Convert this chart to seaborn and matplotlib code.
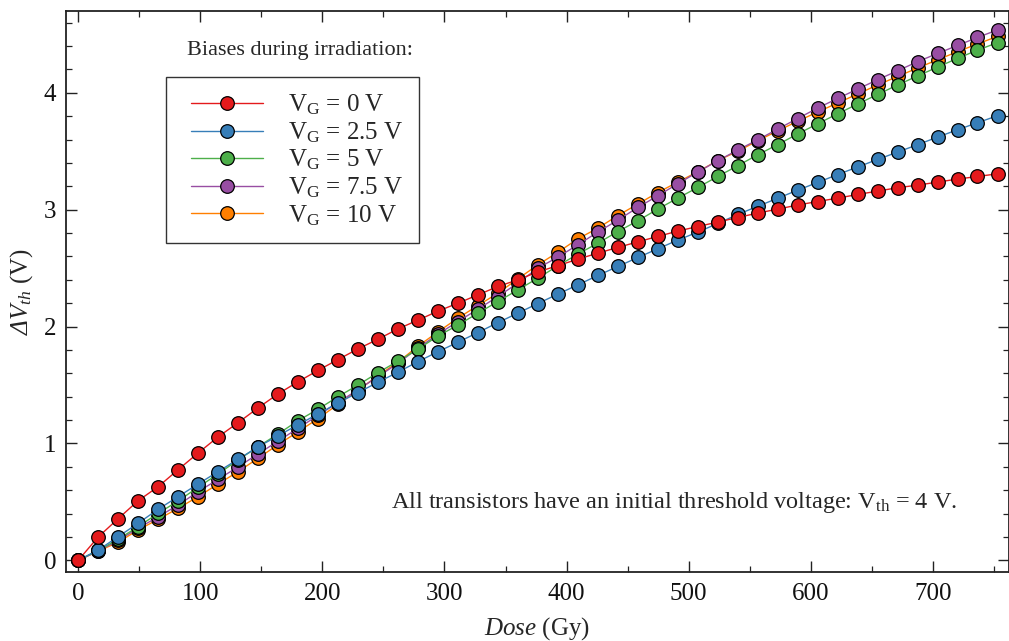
import numpy as np
import pandas as pd
import matplotlib
matplotlib.use("Agg")
import matplotlib.pyplot as plt
from matplotlib.ticker import MultipleLocator
from matplotlib.legend_handler import HandlerLine2D
from matplotlib.lines import Line2D
import seaborn as sns

dose = [0, 16.4, 32.7, 49.1, 65.5, 81.9, 98.2, 114.6, 131.0, 147.3, 163.7, 180.1,
        196.4, 212.8, 229.2, 245.6, 261.9, 278.3, 294.7, 311.0, 327.4, 343.8, 360.1,
        376.5, 392.9, 409.3, 425.6, 442.0, 458.4, 474.7, 491.1, 507.5, 523.8, 540.2,
        556.6, 573.0, 589.3, 605.7, 622.1, 638.4, 654.8, 671.2, 687.5, 703.9, 720.3,
        736.6, 753.0]

vg_0 = [0, 0.20, 0.356, 0.51, 0.63, 0.776, 0.918, 1.056, 1.178, 1.304, 1.424, 1.528,
        1.625, 1.718, 1.809, 1.892, 1.98, 2.055, 2.132, 2.20, 2.271, 2.343, 2.40, 2.468,
        2.521, 2.577, 2.628, 2.677, 2.725, 2.771, 2.817, 2.856, 2.894, 2.933, 2.971,
        3.005, 3.04, 3.07, 3.099, 3.13, 3.159, 3.188, 3.21, 3.236, 3.262, 3.284, 3.307]
vg_2_5 = [0, 0.088, 0.202, 0.317, 0.437, 0.545, 0.653, 0.759, 0.865, 0.97, 1.066, 1.16,
          1.252, 1.347, 1.435, 1.524, 1.61, 1.70, 1.785, 1.866, 1.949, 2.034, 2.115,
          2.197, 2.278, 2.357, 2.437, 2.514, 2.591, 2.665, 2.74, 2.808, 2.882, 2.959,
          3.029, 3.098, 3.167, 3.233, 3.301, 3.365, 3.43, 3.493, 3.556, 3.621, 3.684,
          3.744, 3.804]
vg_5 = [0, 0.085, 0.18, 0.288, 0.402, 0.508, 0.625, 0.739, 0.859, 0.972, 1.081, 1.195,
        1.293, 1.40, 1.50, 1.606, 1.704, 1.806, 1.92, 2.012, 2.115, 2.214, 2.314, 2.414,
        2.52, 2.62, 2.714, 2.813, 2.905, 3.005, 3.099, 3.19, 3.284, 3.376, 3.47, 3.557,
        3.648, 3.735, 3.821, 3.904, 3.986, 4.067, 4.144, 4.22, 4.295, 4.365, 4.429]
vg_7_5 = [0, 0.08, 0.17, 0.274, 0.373, 0.473, 0.587, 0.693, 0.80, 0.91, 1.02, 1.13,
          1.24, 1.35, 1.46, 1.572, 1.685, 1.815, 1.935, 2.043, 2.149, 2.257, 2.372, 2.50,
          2.594, 2.70, 2.808, 2.911, 3.019, 3.119, 3.222, 3.322, 3.419, 3.51, 3.598,
          3.69, 3.78, 3.87, 3.952, 4.032, 4.112, 4.189, 4.266, 4.337, 4.405, 4.474, 4.538]
vg_10 = [0, 0.078, 0.155, 0.26, 0.351, 0.445, 0.545, 0.653, 0.759, 0.873, 0.99, 1.10,
         1.212, 1.335, 1.455, 1.58, 1.695, 1.832, 1.955, 2.072, 2.18, 2.286, 2.408, 2.528,
         2.636, 2.751, 2.842, 2.95, 3.048, 3.147, 3.236, 3.325, 3.42, 3.50, 3.59, 3.675,
         3.757, 3.836, 3.913, 3.99, 4.067, 4.14, 4.212, 4.283, 4.352, 4.418, 4.483]

bias_labels = ["V$_\\mathrm{G}$ = 0 V", "V$_\\mathrm{G}$ = 2.5 V", "V$_\\mathrm{G}$ = 5 V",
               "V$_\\mathrm{G}$ = 7.5 V", "V$_\\mathrm{G}$ = 10 V"]
colors = ["#e41a1c", "#377eb8", "#4daf4a", "#984ea3", "#ff7f00"]
series = [vg_0, vg_2_5, vg_5, vg_7_5, vg_10]

df = pd.concat([pd.DataFrame({"dose": dose, "dv": s, "bias": lab})
                for s, lab in zip(series, bias_labels)], ignore_index=True)

sns.set_theme(style="white")
plt.rcParams["font.family"] = ["Liberation Serif", "DejaVu Serif"]
plt.rcParams["mathtext.fontset"] = "custom"
plt.rcParams["mathtext.rm"] = "Liberation Serif"
plt.rcParams["mathtext.it"] = "Liberation Serif:italic"
plt.rcParams["mathtext.sf"] = "Liberation Serif:italic"
plt.rcParams["mathtext.bf"] = "Liberation Serif:bold"

fig = plt.figure(figsize=(10.09, 6.41), dpi=100)
ax = fig.add_axes([66 / 1009, 1 - 572 / 641, 942.5 / 1009, (572 - 11) / 641])

sns.lineplot(data=df, x="dose", y="dv", hue="bias", hue_order=bias_labels,
             palette=colors, marker="o", markersize=9.8, markeredgecolor="black",
             markeredgewidth=0.9, linewidth=1.0, legend=False, ax=ax)

lines = [l for l in ax.lines if isinstance(l, Line2D)]
for i, ln in enumerate(lines):
    ln.set_zorder(10 - i)

ax.set_xlim(-10, 762)
ax.set_ylim(-0.1, 4.7)
ax.xaxis.set_major_locator(MultipleLocator(100))
ax.xaxis.set_minor_locator(MultipleLocator(50))
ax.yaxis.set_major_locator(MultipleLocator(1))
ax.yaxis.set_minor_locator(MultipleLocator(0.2))
ax.tick_params(which="both", direction="in", top=True, right=True, bottom=True, left=True,
               colors="#222222", labelcolor="#111111")
ax.tick_params(which="major", length=8, width=1.0, labelsize=18)
ax.tick_params(which="minor", length=4, width=0.9)
ax.tick_params(axis="x", which="major", pad=8)
ax.tick_params(axis="y", which="major", pad=7)
for sp in ax.spines.values():
    sp.set_visible(True)
    sp.set_color("#222222")
    sp.set_linewidth(1.3)

ax.set_xlabel(r"$\mathit{Dose}$ (Gy)", fontsize=18, labelpad=7)
ax.set_ylabel(r"$\mathsf{ΔV}_{\mathit{th}}$ (V)", fontsize=18, labelpad=6)

handler = HandlerLine2D(xpad=0.4)
leg = ax.legend(handles=lines, labels=bias_labels, loc="upper left",
                bbox_to_anchor=(0.106, 0.882), borderaxespad=0, fontsize=18,
                frameon=True, fancybox=False, edgecolor="black", handlelength=3.25,
                handletextpad=1.0, labelspacing=0.12, borderpad=0.62,
                handler_map={Line2D: handler})
leg.get_frame().set_linewidth(1.0)

ax.text(0.248, 0.930, "Biases during irradiation:", transform=ax.transAxes,
        ha="center", va="center", fontsize=16)
ax.text(0.946, 0.123, "All transistors have an initial threshold voltage: V$_\\mathrm{th}$ = 4 V.",
        transform=ax.transAxes, ha="right", va="center", fontsize=17.5)

fig.savefig("out.png", dpi=100)
